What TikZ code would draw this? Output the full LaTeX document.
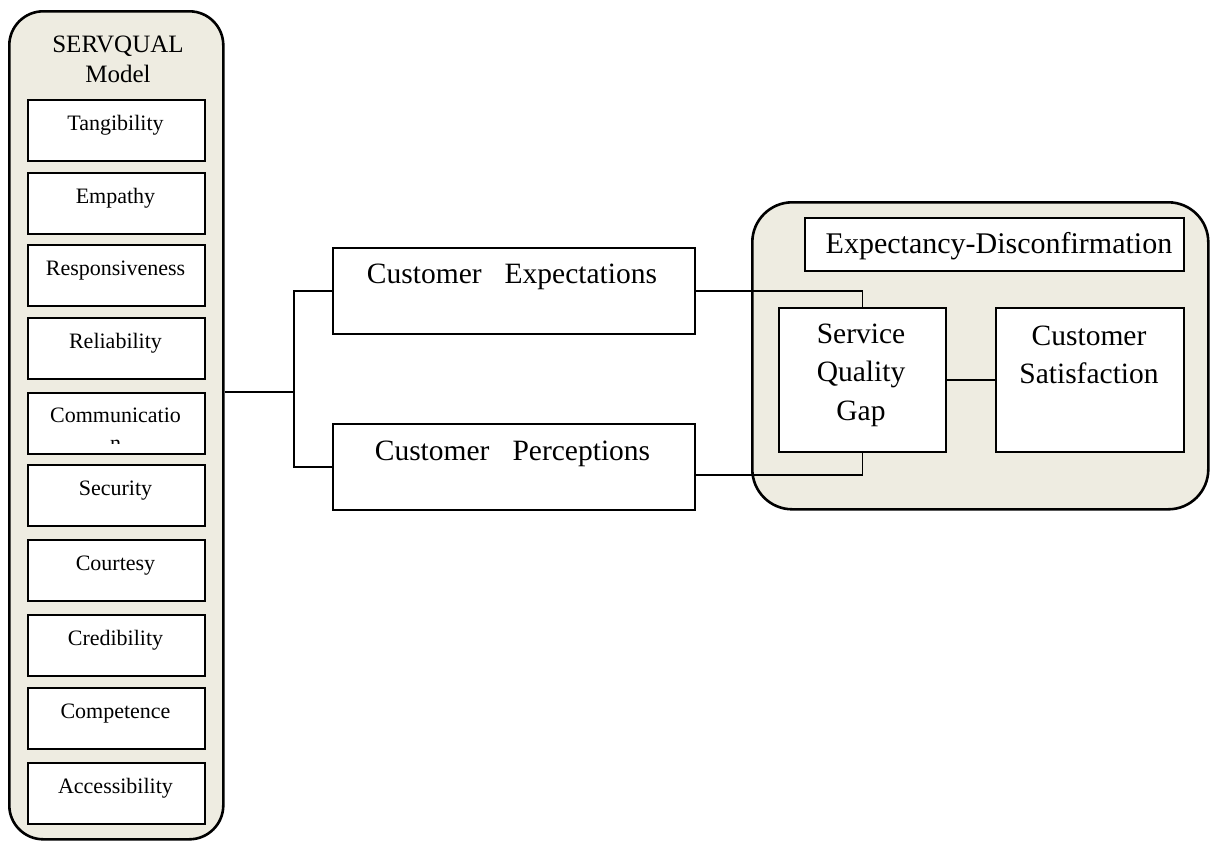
\documentclass[tikz,border=0pt]{standalone}
\usepackage{fontspec}
\setmainfont{Liberation Serif}
\definecolor{panelbg}{HTML}{EEECE1}
% centred stack of lines whose baseline is that of the first line
\newcommand\linesat[1]{\begin{tabular}[t]{@{}c@{}}#1\end{tabular}}
\begin{document}
\begin{tikzpicture}[x=1pt,y=-1pt,
  panel/.style={draw=black, line width=2.6pt, fill=panelbg, rounded corners=#1,
    anchor=north west, inner sep=0pt},
  dimbox/.style={draw=black, line width=2.2pt, fill=white, minimum width=177pt,
    minimum height=61pt, anchor=north west, inner sep=0pt},
  dimtext/.style={anchor=base, font=\fontsize{22}{28}\selectfont, inner sep=0pt},
  bigbox/.style={draw=black, line width=1.5pt, fill=white, inner sep=0pt, anchor=north west},
  bigtext/.style={anchor=base, font=\fontsize{29.5}{38.5}\selectfont, inner sep=0pt},
  link/.style={draw=black, line width=1.5pt}
]
\useasboundingbox (0,0) rectangle (1211,841);

% ---- SERVQUAL panel with its ten dimensions ----
\node[panel=34pt, minimum width=214pt, minimum height=828pt] (servq) at (8,10) {};
\node[anchor=base, font=\fontsize{25}{30}\selectfont, inner sep=0pt] (servq-title)
  at (118,52) {\linesat{SERVQUAL\\Model}};

\foreach \n/\t/\y in {tang/Tangibility/99, emp/Empathy/172, resp/Responsiveness/244,
    rel/Reliability/317, comm//392, sec/Security/464, cour/Courtesy/539,
    cred/Credibility/614, comp/Competence/687, acc/Accessibility/762} {
  \node[dimbox] (\n) at (27,\y) {};
  \node[dimtext] (\n-l) at (115.5,\y+31) {\t};
}
% the word wraps and its second line is cut off by the box margin
\begin{scope}
  \clip (27,392) rectangle (204,443);
  \node[dimtext] (comm-text) at (115.5,422) {\linesat{Communicatio\\n}};
\end{scope}

% ---- expectations and perceptions ----
\node[bigbox, minimum width=362pt, minimum height=86pt] (exp) at (332,247) {};
\node[bigtext] (exp-l) at (512,283) {Customer\hspace{23pt}Expectations};
\node[bigbox, minimum width=362pt, minimum height=86pt] (perc) at (332,423) {};
\node[bigtext] (perc-l) at (512.5,460) {Customer\hspace{23pt}Perceptions};

% ---- expectancy-disconfirmation panel ----
\node[panel=40pt, minimum width=456pt, minimum height=307pt] (edpanel) at (751,201) {};
\node[bigbox, minimum width=379pt, minimum height=53pt] (ed) at (804,217) {};
\node[bigtext, font=\fontsize{30}{38}\selectfont] (ed-l) at (999,253) {Expectancy-Disconfirmation};
\node[bigbox, minimum width=167pt, minimum height=144pt] (sqg) at (778,307) {};
\node[bigtext] (sqg-l) at (861,343) {\linesat{Service\\Quality\\Gap}};
\node[bigbox, minimum width=188pt, minimum height=144pt] (cs) at (995,307) {};
\node[bigtext] (cs-l) at (1089,345) {\linesat{Customer\\Satisfaction}};

% ---- connectors ----
\coordinate (fork) at (294,392);
\draw[link] (servq.east |- fork) -- (fork);
\draw[link] (exp.west) -| (fork);
\draw[link] (perc.west) -| (fork);
\draw[link] (exp.east) -| (sqg.north);
\draw[link] ([yshift=-8pt]perc.east) -| (sqg.south);
\draw[link] (sqg.east) -- (cs.west);
\end{tikzpicture}
\end{document}
